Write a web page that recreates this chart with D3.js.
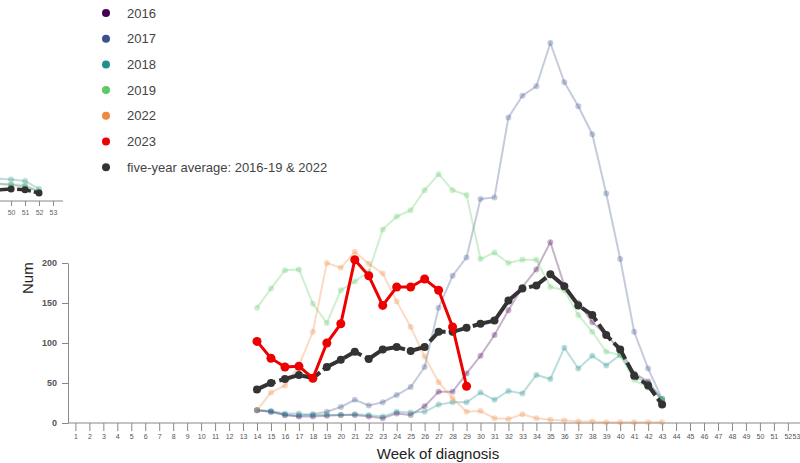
<!DOCTYPE html>
<html>
<head>
<meta charset="utf-8">
<script src="https://cdn.jsdelivr.net/npm/d3@7"></script>
<style>
  html, body { margin: 0; padding: 0; background: #fff; }
  svg { display: block; font-family: "Liberation Sans", Arial, sans-serif; }
</style>
</head>
<body>
<svg id="chart" width="800" height="463"></svg>
<script>
// Weekly case counts, weeks 14–43 of each season
const weeks = d3.range(14, 44);
const allWeeks = d3.range(1, 54);
const yTicks = [0, 50, 100, 150, 200];

const s2016 = [16, 14, 10, 8, 8, 9, 10, 10, 8, 6, 12, 10, 21, 39, 39, 62, 84, 110, 141, 170, 192, 226, 172, 150, 126, 110, 91, 62, 52, 28];
const s2017 = [16, 14, 10, 9, 11, 14, 20, 29, 22, 26, 35, 45, 70, 144, 184, 207, 280, 282, 382, 409, 421, 475, 426, 396, 361, 287, 205, 114, 68, 30];
const s2018 = [16, 15, 12, 12, 10, 10, 10, 11, 10, 8, 14, 13, 14, 23, 26, 26, 38, 29, 40, 37, 60, 55, 94, 68, 84, 72, 85, 58, 50, 30];
const s2019 = [144, 168, 191, 192, 149, 125, 166, 177, 189, 242, 258, 266, 291, 311, 291, 285, 205, 213, 200, 204, 204, 170, 166, 135, 114, 89, 85, 54, 44, 30];
const s2022 = [16, 38, 47, 72, 114, 200, 194, 214, 199, 187, 152, 120, 83, 51, 31, 14, 15, 6, 5, 11, 6, 4, 3, 2, 2, 1, 1, 1, 1, 1];
const avgValues = [42, 50, 55, 60, 56, 70, 79, 89, 80, 92, 95, 90, 95, 114, 114, 119, 124, 128, 153, 168, 172, 186, 171, 147, 135, 110, 92, 59, 47, 23];

// Current season so far
const weeks2023 = d3.range(14, 30);
const s2023 = [102, 81, 70, 71, 56, 100, 124, 204, 184, 147, 170, 170, 180, 166, 120, 46];

// Tail of the neighbouring panel (end-of-year weeks)
const fragWeeks = [48, 49, 50, 51, 52];
const fragTicks = [50, 51, 52, 53];
const frag2017 = [24, 22, 20, 18, 12];
const frag2018 = [30, 28, 27, 25, 15];
const frag2019 = [22, 21, 21, 20, 12];
const fragAvg = [15, 14, 15, 14, 10];

const legendLabels = ["2016", "2017", "2018", "2019", "2022", "2023", "five-year average: 2016-19 & 2022"];
const legendColors = ["#440154", "#3b528b", "#21908d", "#5ec962", "#f0883e", "#ee0000", "#333333"];

const svg = d3.select("#chart");

const x = d3.scaleLinear().domain([1, 53]).range([75.4, 801.8]);
const y = d3.scaleLinear().domain([0, 200]).range([423, 263]);
const axisLeftX = 68;

// ---------- neighbouring panel fragment ----------
const fx = d3.scaleLinear().domain([1, 53]).range([53 - 52 * 13.97, 53]);
const fy = d3.scaleLinear().domain([0, 200]).range([201, 41]);
const frag = svg.append("g");
frag.append("line")
  .attr("x1", 0).attr("x2", 63).attr("y1", fy(0)).attr("y2", fy(0))
  .attr("stroke", "#888").attr("stroke-width", 1);
const fAxis = frag.append("g").attr("transform", `translate(0,${fy(0)})`)
  .call(d3.axisBottom(fx).tickValues(fragTicks).tickSize(5).tickFormat(d3.format("d")));
fAxis.select(".domain").remove();
fAxis.selectAll("line").attr("stroke", "#888");
fAxis.selectAll("text").attr("font-size", 7).attr("fill", "#666").attr("dy", "0.9em");

const fline = d3.line().x((d, i) => fx(fragWeeks[i])).y(d => fy(d));
[[frag2017, legendColors[1]], [frag2018, legendColors[2]], [frag2019, legendColors[3]]].forEach(([vals, c]) => {
  frag.append("path").datum(vals).attr("d", fline)
    .attr("fill", "none").attr("stroke", c).attr("stroke-width", 2).attr("opacity", 0.3);
  frag.selectAll(null).data(vals).enter().append("circle")
    .attr("cx", (d, i) => fx(fragWeeks[i])).attr("cy", d => fy(d)).attr("r", 3)
    .attr("fill", c).attr("opacity", 0.3);
});
frag.append("path").datum(fragAvg).attr("d", fline)
  .attr("fill", "none").attr("stroke", "#333").attr("stroke-width", 3.5).attr("stroke-dasharray", "14,3");
frag.selectAll(null).data(fragAvg).enter().append("circle")
  .attr("cx", (d, i) => fx(fragWeeks[i])).attr("cy", d => fy(d)).attr("r", 3.5).attr("fill", "#333");

// ---------- axes ----------
const yAxis = svg.append("g").attr("transform", `translate(${axisLeftX},0)`)
  .call(d3.axisLeft(y).tickValues(yTicks).tickSize(6).tickSizeOuter(0));
yAxis.select(".domain").attr("stroke", "#888");
yAxis.selectAll("line").attr("stroke", "#888");
yAxis.selectAll("text").attr("font-size", 9).attr("font-weight", "bold").attr("fill", "#555").attr("x", -11);

svg.append("line")
  .attr("x1", axisLeftX).attr("x2", 800).attr("y1", y(0)).attr("y2", y(0))
  .attr("stroke", "#888").attr("stroke-width", 1);
const xAxis = svg.append("g").attr("transform", `translate(0,${y(0)})`)
  .call(d3.axisBottom(x).tickValues(allWeeks).tickSize(8).tickFormat(d3.format("d")));
xAxis.select(".domain").remove();
xAxis.selectAll("line").attr("stroke", "#888");
xAxis.selectAll("text").attr("font-size", 7).attr("fill", "#555").attr("dy", "0.75em");
// nudge the last week label so it stays inside the drawing
xAxis.selectAll(".tick").filter(d => d === 53).select("text")
  .attr("x", 796 - x(53));

svg.append("text")
  .attr("x", 438).attr("y", 459).attr("text-anchor", "middle")
  .attr("font-size", 15).attr("fill", "#222")
  .text("Week of diagnosis");

svg.append("clipPath").attr("id", "ylabel-clip")
  .append("rect").attr("x", 0).attr("y", 262).attr("width", 60).attr("height", 200);
svg.append("g").attr("clip-path", "url(#ylabel-clip)")
  .append("text")
  .attr("transform", "translate(33,294) rotate(-90)")
  .attr("font-size", 15).attr("fill", "#222")
  .text("Number of cases");

// ---------- series ----------
const line = d3.line().x((d, i) => x(weeks[i])).y(d => y(d));
const past = [[s2016, legendColors[0]], [s2017, legendColors[1]], [s2018, legendColors[2]], [s2019, legendColors[3]], [s2022, legendColors[4]]];
past.forEach(([vals, c]) => {
  const g = svg.append("g");
  g.append("path").datum(vals).attr("d", line)
    .attr("fill", "none").attr("stroke", c).attr("stroke-width", 2).attr("opacity", 0.3);
  g.selectAll("circle").data(vals).enter().append("circle")
    .attr("cx", (d, i) => x(weeks[i])).attr("cy", d => y(d)).attr("r", 3)
    .attr("fill", c).attr("opacity", 0.3);
});

// five-year average
const avgG = svg.append("g");
avgG.append("path").datum(avgValues).attr("d", line)
  .attr("fill", "none").attr("stroke", "#333").attr("stroke-width", 4)
  .attr("stroke-dasharray", "20,4");
avgG.selectAll("circle").data(avgValues).enter().append("circle")
  .attr("cx", (d, i) => x(weeks[i])).attr("cy", d => y(d)).attr("r", 4).attr("fill", "#333");

// 2023
const line23 = d3.line().x((d, i) => x(weeks2023[i])).y(d => y(d));
const g23 = svg.append("g");
g23.append("path").datum(s2023).attr("d", line23)
  .attr("fill", "none").attr("stroke", "#ee0000").attr("stroke-width", 3);
g23.selectAll("circle").data(s2023).enter().append("circle")
  .attr("cx", (d, i) => x(weeks2023[i])).attr("cy", d => y(d)).attr("r", 4.5).attr("fill", "#ee0000");

// ---------- legend ----------
const legend = svg.append("g").attr("transform", "translate(106,13)");
const items = legend.selectAll("g").data(legendLabels).enter().append("g")
  .attr("transform", (d, i) => `translate(0,${i * 25.7})`);
items.append("circle").attr("r", 4).attr("fill", (d, i) => legendColors[i]);
items.append("text").attr("x", 21).attr("dy", "0.35em")
  .attr("font-size", 13).attr("fill", "#444").text(d => d);
</script>
</body>
</html>
